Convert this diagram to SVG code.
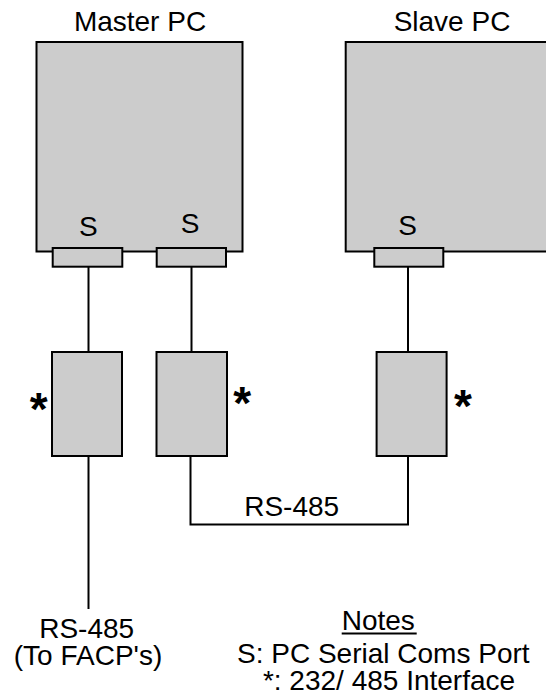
<svg xmlns="http://www.w3.org/2000/svg" width="546" height="698" viewBox="0 0 546 698">
<style>
.box{fill:#cccccc;stroke:#000;stroke-width:2}
.ln{fill:none;stroke:#000;stroke-width:2}
text{font-family:"Liberation Sans",Arial,sans-serif;font-size:28px;fill:#000;text-anchor:middle}
.ast{font-weight:bold;font-size:46px}
</style>
<rect width="546" height="698" fill="#fff"/>
<g id="connectors">
<line class="ln" x1="88.5" y1="267" x2="88.5" y2="352"/>
<line class="ln" x1="88.5" y1="456" x2="88.5" y2="609"/>
<line class="ln" x1="191.5" y1="267" x2="191.5" y2="352"/>
<line class="ln" x1="408" y1="267" x2="408" y2="352"/>
<polyline class="ln" points="190.5,456 190.5,524.5 408,524.5 408,456"/>
</g>
<g id="master-pc">
<text x="140" y="30.5">Master PC</text>
<rect class="box" x="36.5" y="42" width="206" height="209.5"/>
<text x="88.3" y="236">S</text>
<text x="190" y="233.3">S</text>
</g>
<g id="slave-pc">
<text x="452" y="30.5">Slave PC</text>
<rect class="box" x="345.7" y="42" width="230" height="209.5"/>
<text x="407.7" y="235">S</text>
</g>
<g id="port-m1"><rect class="box" x="52.7" y="248" width="69.6" height="18.7"/></g>
<g id="port-m2"><rect class="box" x="156.7" y="248" width="69.3" height="18.7"/></g>
<g id="port-s1"><rect class="box" x="374.3" y="248" width="69" height="18.7"/></g>
<g id="iface-1">
<rect class="box" x="52" y="352" width="70" height="104"/>
<text class="ast" x="38.7" y="425">*</text>
</g>
<g id="iface-2">
<rect class="box" x="156.5" y="352" width="70.5" height="104"/>
<text class="ast" x="242.3" y="419">*</text>
</g>
<g id="iface-3">
<rect class="box" x="376.6" y="352" width="70" height="104"/>
<text class="ast" x="463" y="422">*</text>
</g>
<text x="291.7" y="516">RS-485</text>
<g id="label-facp">
<text x="86.7" y="638.3">RS-485</text>
<text x="88" y="665">(To FACP's)</text>
</g>
<g id="notes">
<text x="378.3" y="630">Notes</text>
<line x1="341.7" y1="633.5" x2="416.7" y2="633.5" stroke="#000" stroke-width="2"/>
<text x="383.3" y="663.3">S: PC Serial Coms Port</text>
<text x="389" y="690">*: 232/ 485 Interface</text>
</g>
</svg>
